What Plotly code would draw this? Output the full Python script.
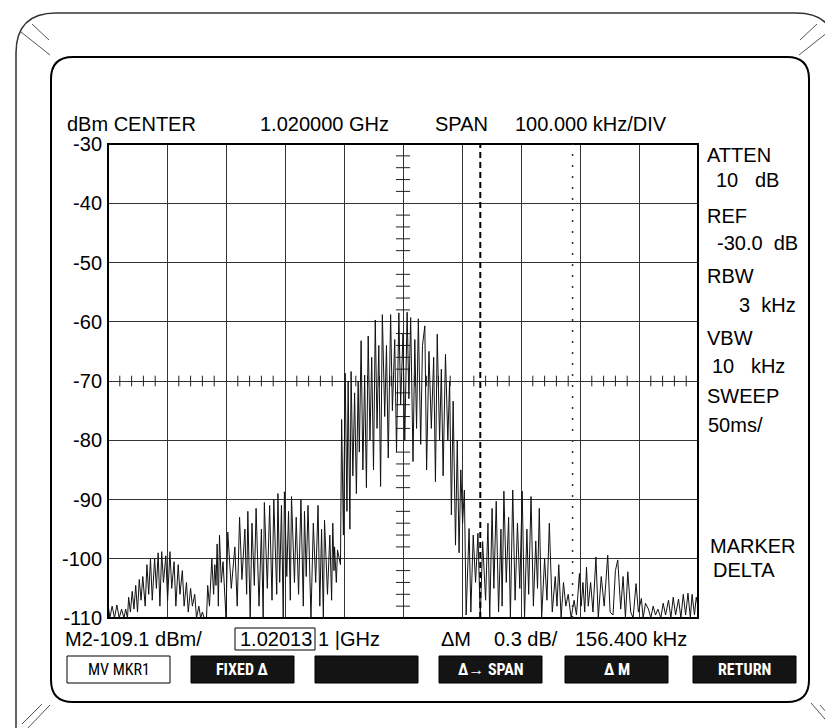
import plotly.graph_objects as go

# ---------------- data ----------------
# spectrum trace: frequency offset from centre (kHz) and level (dBm)
freq_khz = [
    -500, -497, -493, -489, -485, -481, -477, -473, -470, -467,
    -465, -462, -459, -456, -453, -450, -447, -444, -441, -437,
    -434, -431, -428, -425, -421, -418, -415, -412, -409, -406,
    -402, -399, -395, -392, -388, -385, -381, -378, -374, -371,
    -367, -364, -360, -357, -353, -350, -346, -343, -340, -337,
    -333, -331, -328, -324, -321, -319, -317, -315, -313, -311,
    -308, -305, -300, -297, -291, -285, -281, -277, -273, -268,
    -265, -263, -259, -256, -252, -249, -244, -240, -237, -235,
    -230, -226, -222, -219, -214, -212, -209, -206, -203, -201,
    -197, -194, -191, -189, -184, -181, -177, -173, -169, -167,
    -164, -161, -156, -152, -148, -144, -141, -138, -135, -133,
    -128, -124, -121, -119, -117, -116, -113, -111, -108, -106,
    -104, -101, -98, -95, -93, -90, -88, -85, -82, -79,
    -76, -74, -71, -68, -65, -62, -59, -56, -53, -50,
    -47, -44, -41, -38, -35, -31, -28, -25, -21, -18,
    -14, -11, -7, -4, 0, 3, 7, 10, 13, 17,
    20, 23, 26, 30, 33, 37, 40, 44, 48, 52,
    55, 58, 62, 65, 68, 72, 76, 79, 82, 85,
    89, 92, 95, 98, 101, 104, 107, 110, 112, 115,
    119, 123, 127, 131, 135, 140, 144, 147, 151, 154,
    158, 162, 166, 168, 171, 175, 179, 182, 186, 190,
    194, 198, 202, 206, 210, 213, 217, 221, 225, 228,
    231, 235, 240, 244, 248, 253, 258, 261, 264, 268,
    272, 276, 280, 285, 290, 294, 299, 302, 305, 308,
    311, 314, 318, 322, 327, 331, 336, 341, 347, 351,
    356, 360, 364, 369, 373, 377, 381, 386, 390, 395,
    399, 404, 407, 411, 416, 420, 424, 428, 432, 437,
    441, 445, 450, 454, 458, 462, 467, 471, 475, 479,
    483, 487, 490, 494, 497, 500,
]
level_dbm = [
    -107.5, -110, -108, -110, -107.8, -110, -108.5, -110, -108.5, -110,
    -106.5, -109, -105.5, -108.5, -104.5, -109, -103.5, -107, -103, -108,
    -101, -106, -100, -107, -100, -105, -99, -108, -98.8, -104,
    -99.5, -107, -98.8, -105, -100.5, -108, -101, -106, -102, -108,
    -104, -109, -105, -108, -106, -110, -108, -110, -109, -110,
    -110, -104.5, -108, -100, -106, -101, -104.5, -97.5, -108, -96,
    -104, -100.5, -110, -95.5, -105, -98, -108, -93, -103.5, -95,
    -106, -92, -110, -94, -104.5, -91.5, -108, -95, -110, -90.5,
    -105, -91, -107, -90, -106, -89, -104, -91, -110, -88.7,
    -103, -92, -107, -89.5, -104, -93, -106, -90, -108, -92,
    -103, -91, -110, -94, -104, -91, -108, -95, -110, -93.5,
    -106, -96, -107, -94, -102, -98, -104, -98.5, -100, -101,
    -76.5, -96, -68.7, -92, -70, -95, -68.4, -86, -72, -89,
    -70, -82, -63.2, -85, -69, -88, -62.4, -80, -66, -85,
    -59.7, -78, -64, -87.8, -58.8, -76, -64, -83, -58.8, -75,
    -63, -82, -58.5, -74, -62, -80, -58.4, -73, -59.3, -83.6,
    -63, -78, -59.5, -80.7, -64, -60.7, -85, -65, -78, -66,
    -87, -62.1, -80, -68, -86, -65.5, -80, -70, -92.6, -73.4,
    -97.7, -80, -99, -85, -94, -88.4, -109.5, -100, -94.9, -109,
    -96, -104, -95.7, -110, -97.1, -107, -94, -110, -91.5, -105,
    -90.3, -109, -95, -108, -88.6, -104, -93, -110, -88.4, -107,
    -94, -105, -88.6, -110, -95, -106, -89.5, -108, -97, -105,
    -91.5, -110, -100, -107, -94, -109, -103, -108, -101, -110,
    -104, -108, -106, -110, -107, -109.5, -102.5, -108, -104, -109,
    -101.4, -108, -104, -109, -99.7, -110, -103, -108, -99.4, -109,
    -109.5, -102, -100.2, -108.5, -103, -110, -102.2, -109, -110, -104.2,
    -109, -106.7, -110, -107.5, -108.5, -110, -108, -109.5, -108.5, -110,
    -107.5, -109.5, -107, -110, -106.5, -109.5, -106.8, -110, -106, -109.5,
    -105.8, -110, -106, -109.5, -106.5, -108,
]

y_ticks = [-30, -40, -50, -60, -70, -80, -90, -100, -110]
y_tick_text = ["-30", "-40", "-50", "-60", "-70", "-80", "-90", "-100", "-110"]

marker1_khz = 131.0          # M2 position (1.020131 GHz)
delta_khz = 156.4            # marker delta

header_texts = [("dBm CENTER", 57), ("1.020000 GHz", 250), ("SPAN", 425), ("100.000 kHz/DIV", 505)]
side_texts = [
    ("ATTEN", 697, 147), ("10\u00a0\u00a0\u00a0dB", 706, 172),
    ("REF", 697, 208), ("-30.0\u00a0\u00a0dB", 707, 235),
    ("RBW", 697, 268), ("3\u00a0\u00a0kHz", 729, 297),
    ("VBW", 697, 330), ("10\u00a0\u00a0\u00a0kHz", 702, 358),
    ("SWEEP", 697, 388), ("50ms/", 698, 417),
    ("MARKER", 700, 538), ("DELTA", 703, 562),
]
bottom_texts = [("M2-109.1 dBm/", 55), ("1.02013", 230), ("1\u00a0|GHz", 308),
                ("\u0394M", 431), ("0.3 dB/", 484), ("156.400 kHz", 565)]
buttons = ["MV MKR1", "FIXED \u0394", "", "\u0394\u2192 SPAN", "\u0394 M", "RETURN"]
button_left = [59, 183, 307, 431, 557, 685]

# ---------------- layout geometry (pixels) ----------------
W, H = 833, 728
PL, PR, PT, PB = 100, 690, 136, 610
FONT = "Liberation Sans, Arial, Helvetica, sans-serif"
NARROW = "Liberation Sans Narrow, Roboto Condensed, Arial Narrow, sans-serif"


def px(x):
    return (x - PL) / (PR - PL)


def py(y):
    return (PB - y) / (PB - PT)


def rounded_path(x0, y0, x1, y1, r):
    rx = r / (PR - PL)
    ry = r / (PB - PT)
    X0, X1 = px(x0), px(x1)
    Y0, Y1 = py(y0), py(y1)  # Y0 top (larger), Y1 bottom
    return (f"M {X0+rx},{Y0} L {X1-rx},{Y0} Q {X1},{Y0} {X1},{Y0-ry} "
            f"L {X1},{Y1+ry} Q {X1},{Y1} {X1-rx},{Y1} L {X0+rx},{Y1} "
            f"Q {X0},{Y1} {X0},{Y1+ry} L {X0},{Y0-ry} Q {X0},{Y0} {X0+rx},{Y0} Z")


fig = go.Figure()

# graticule minor ticks on centre lines
tx, ty = [], []
for i in range(50):
    f = -500 + i * 20
    if f % 100 == 0:
        continue
    tx += [f, f, None]
    ty += [-70.9, -69.1, None]
for i in range(40):
    v = -110 + i * 2
    if v % 10 == 0:
        continue
    tx += [-12, 12, None]
    ty += [v, v, None]
fig.add_trace(go.Scatter(x=tx, y=ty, mode="lines", line=dict(color="#222", width=1),
                         hoverinfo="skip", showlegend=False))

fig.add_trace(go.Scatter(x=freq_khz, y=level_dbm, mode="lines",
                         line=dict(color="#111", width=1), showlegend=False))

shapes = []
# plot frame
shapes.append(dict(type="rect", xref="paper", yref="paper", x0=0, x1=1, y0=0, y1=1,
                   line=dict(color="black", width=2)))
# marker lines
shapes.append(dict(type="line", xref="x", yref="paper", x0=marker1_khz, x1=marker1_khz, y0=0, y1=1,
                   line=dict(color="black", width=2, dash="6px,4px")))
shapes.append(dict(type="line", xref="x", yref="paper", x0=marker1_khz + delta_khz,
                   x1=marker1_khz + delta_khz, y0=0, y1=1,
                   line=dict(color="#333", width=1.5, dash="2px,9px")))
# inner screen outline and outer bezel
shapes.append(dict(type="path", xref="paper", yref="paper", path=rounded_path(43, 49, 801, 694, 22),
                   line=dict(color="black", width=2)))
shapes.append(dict(type="path", xref="paper", yref="paper", path=rounded_path(8, 5, 828, 780, 40),
                   line=dict(color="#333", width=1.5)))
# corner bevel strokes
for (x0, y0, x1, y1) in [(13, 24, 42, 47), (24, 16, 41, 32), (820, 24, 791, 47), (809, 16, 792, 32),
                         (42, 697, 18, 722), (34, 696, 14, 716), (803, 695, 830, 726), (812, 697, 826, 713)]:
    shapes.append(dict(type="line", xref="paper", yref="paper", x0=px(x0), y0=py(y0), x1=px(x1), y1=py(y1),
                       line=dict(color="#555", width=1)))
# value box in the marker readout
shapes.append(dict(type="rect", xref="paper", yref="paper", x0=px(227), x1=px(307), y0=py(642), y1=py(620),
                   line=dict(color="black", width=1)))
# soft keys
for lab, bl in zip(buttons, button_left):
    filled = lab != "MV MKR1"
    shapes.append(dict(type="rect", xref="paper", yref="paper", x0=px(bl), x1=px(bl + 103),
                       y0=py(675), y1=py(648),
                       fillcolor="#141414" if filled else "white",
                       line=dict(color="black", width=1)))

ann = []
for t, x in header_texts:
    ann.append(dict(text=t, x=px(x), y=py(116)))
for t, x, y in side_texts:
    ann.append(dict(text=t, x=px(x), y=py(y)))
for t, x in bottom_texts:
    ann.append(dict(text=t, x=px(x), y=py(631)))
annotations = [dict(a, xref="paper", yref="paper", xanchor="left", yanchor="middle", showarrow=False,
                    font=dict(family=FONT, size=20, color="black")) for a in ann]
for lab, bl in zip(buttons, button_left):
    if not lab:
        continue
    filled = lab != "MV MKR1"
    annotations.append(dict(text=("<b>" + lab + "</b>") if filled else lab,
                            x=px(bl + 51.5), y=py(661.5), xref="paper", yref="paper",
                            xanchor="center", yanchor="middle", showarrow=False,
                            font=dict(family=NARROW, size=16, color="white" if filled else "black")))

fig.update_layout(
    width=W, height=H,
    margin=dict(l=PL, r=W - PR, t=PT, b=H - PB, pad=0),
    paper_bgcolor="white", plot_bgcolor="white",
    shapes=shapes, annotations=annotations,
    xaxis=dict(range=[-500, 500], dtick=100, showgrid=True, gridcolor="#333", gridwidth=1,
               showticklabels=False, zeroline=False, ticks="", fixedrange=True),
    yaxis=dict(range=[-110, -30], tickvals=y_ticks, ticktext=y_tick_text, showgrid=True,
               gridcolor="#333", gridwidth=1, zeroline=False, ticks="",
               tickfont=dict(family=FONT, size=20, color="black"), ticklabelstandoff=5, fixedrange=True),
    showlegend=False,
)

fig.write_html("out.html")
